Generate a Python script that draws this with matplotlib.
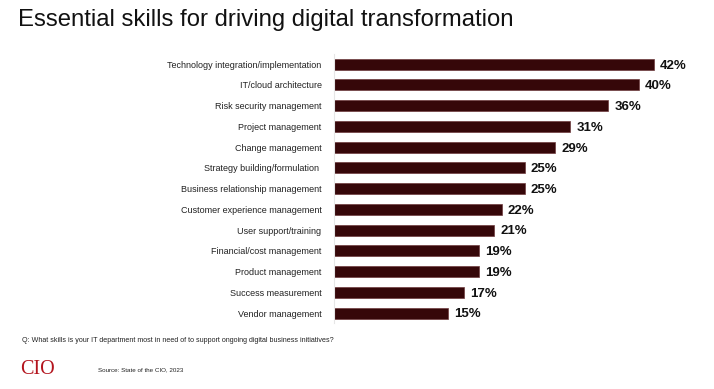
import matplotlib
matplotlib.use("Agg")
import matplotlib.pyplot as plt

plt.rcParams["font.family"] = ["Liberation Sans", "DejaVu Sans"]

# data
skills = [
    "Technology integration/implementation",
    "IT/cloud architecture",
    "Risk security management",
    "Project management",
    "Change management",
    "Strategy building/formulation ",
    "Business relationship management",
    "Customer experience management",
    "User support/training",
    "Financial/cost management",
    "Product management",
    "Success measurement",
    "Vendor management",
]
shares = [42, 40, 36, 31, 29, 25, 25, 22, 21, 19, 19, 17, 15]

TITLE = "Essential skills for driving digital transformation"
QUESTION = ("Q: What skills is your IT department most in need of to support "
            "ongoing digital business initiatives?")
SOURCE = "Source: State of the CIO, 2023"

BAR_COLOR = "#360709"
W, H = 714, 389

fig = plt.figure(figsize=(W / 100, H / 100), dpi=100)
fig.patch.set_facecolor("white")

# axes placed in pixel terms (left, bottom, width, height)
left, top, right, bottom = 334, 53.7, 700, 323.4
ax = fig.add_axes([left / W, 1 - bottom / H, (right - left) / W, (bottom - top) / H])

ypos = list(range(len(skills)))
ax.barh(ypos, shares, height=0.53, color=BAR_COLOR,
        edgecolor="#6e3b3e", linewidth=0.5)

for y, v in zip(ypos, shares):
    ax.text(v + 0.8, y + 0.07, f"{v}%", va="center", ha="left",
            fontsize=9.5, fontweight="bold", color="#111111")

ax.set_xlim(0, (right - left) / 7.62)
ax.set_ylim(len(skills) - 0.5, -0.5)
ax.set_yticks(ypos)
ax.set_yticklabels(skills, fontsize=6.5, color="#222222")
ax.tick_params(axis="y", length=0, pad=9)
ax.set_xticks([])
for s in ["top", "right", "bottom"]:
    ax.spines[s].set_visible(False)
ax.spines["left"].set_color("#e6e6e6")
ax.spines["left"].set_linewidth(0.8)

fig.text(18 / W, 1 - 20 / H, TITLE, fontsize=17.2, va="center", ha="left",
         color="#111111")
fig.text(22 / W, 1 - 340 / H, QUESTION, fontsize=5.1, va="center", ha="left",
         color="#222222")
fig.text(20 / W, 1 - 370 / H, "CIO", fontsize=14.5, va="center", ha="left",
         color="#b3141d", family=["Liberation Serif", "DejaVu Serif"])
fig.text(98 / W, 1 - 370 / H, SOURCE, fontsize=4.5, va="center", ha="left",
         color="#222222")

fig.savefig("out.png", dpi=100, facecolor="white")
